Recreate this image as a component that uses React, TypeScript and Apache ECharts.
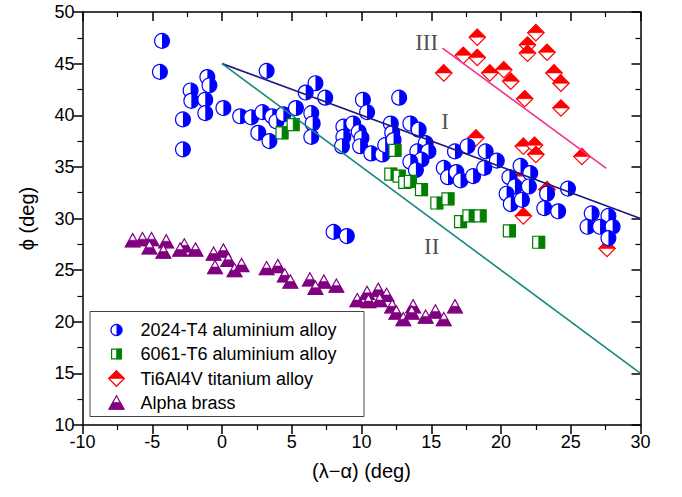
import { useEffect, useRef } from "react";
import * as echarts from "echarts";

// Axis ranges and tick step
const X_RANGE = [-10, 30];
const Y_RANGE = [10, 50];
const TICK_STEP = 5;

const X_TITLE = "(λ−α) (deg)";
const Y_TITLE = "ϕ (deg)";

const SERIES_NAMES = [
  "2024-T4 aluminium alloy",
  "6061-T6 aluminium alloy",
  "Ti6Al4V titanium alloy",
  "Alpha brass",
];

// [λ−α, ϕ] in degrees
const alloy2024T4 = [
  [-4.3, 47.2], [-4.45, 44.2], [-1.05, 43.7], [-0.9, 42.9], [-2.25, 42.4], [-2.2, 41.4],
  [-1.2, 41.5], [-1.2, 40.2], [0.1, 40.7], [-2.8, 39.6], [-2.8, 36.7], [1.3, 39.9],
  [2.1, 39.8], [3.2, 44.3], [2.9, 40.3], [2.6, 38.3], [3.4, 37.5], [3.6, 39.9], [3.9, 39.4],
  [4.4, 40.1], [5.3, 40.7], [6.4, 40.2], [6.5, 39.2], [6.4, 37.9], [6.7, 43.1], [6.0, 42.2],
  [7.4, 41.7], [8.7, 38.9], [8.7, 37.9], [8.6, 37.0], [9.4, 39.2], [9.8, 38.4],
  [10.1, 41.5], [10.4, 40.3], [12.7, 41.7], [10.0, 37.8], [9.9, 37.0], [10.7, 36.3],
  [11.5, 36.2], [11.7, 37.1], [12.1, 39.2], [12.2, 38.3], [12.3, 37.6], [13.5, 39.2],
  [14.1, 38.6], [14.6, 37.3], [14.0, 36.5], [14.8, 36.5], [14.3, 35.7], [13.5, 35.5],
  [13.9, 34.7], [15.9, 34.9], [16.2, 34.0], [16.8, 34.5], [17.1, 33.7], [18.0, 34.1],
  [16.7, 36.5], [17.6, 37.0], [18.9, 36.5], [19.7, 35.6], [18.8, 34.9], [21.4, 35.1],
  [22.1, 34.4], [20.6, 34.0], [21.0, 33.1], [22.0, 33.1], [20.4, 32.4], [20.7, 31.4],
  [21.5, 31.8], [23.3, 32.4], [23.1, 31.0], [24.1, 30.7], [24.8, 32.9], [26.5, 30.5],
  [27.7, 30.25], [26.2, 29.2], [27.1, 29.2], [28.0, 29.2], [27.7, 28.1],
  [8.0, 28.7], [8.95, 28.3],
];

const alloy6061T6 = [
  [4.3, 38.3], [5.1, 39.1], [12.4, 36.6], [12.1, 34.3], [12.7, 34.1], [13.1, 33.5],
  [13.5, 33.6], [14.3, 32.8], [15.4, 31.5], [16.2, 31.9], [17.1, 29.7], [17.7, 30.25],
  [18.5, 30.25], [20.6, 28.8], [22.7, 27.7],
];

const ti6Al4V = [
  [18.3, 47.55], [22.5, 48.0], [21.9, 46.8], [21.9, 46.0], [23.3, 46.1], [17.3, 45.8],
  [18.3, 45.6], [15.9, 44.1], [19.2, 44.1], [20.2, 44.4], [20.7, 43.3], [23.8, 44.1],
  [24.3, 43.1], [21.7, 41.6], [24.3, 40.7], [18.2, 37.8], [21.6, 37.0], [22.4, 37.1],
  [22.5, 36.2], [25.8, 36.0], [21.6, 34.1], [23.3, 32.8], [21.6, 30.25], [27.6, 27.1],
];

const alphaBrass = [
  [-6.4, 27.9], [-5.7, 28.0], [-5.05, 28.0], [-5.2, 27.2], [-4.0, 27.8], [-4.2, 26.8],
  [-2.7, 27.4], [-1.9, 27.0], [-3.0, 27.0], [-0.6, 26.6], [0.1, 26.9], [-0.5, 25.3],
  [0.45, 26.0], [0.9, 25.0], [1.4, 25.5], [3.2, 25.2], [4.0, 25.4], [4.5, 24.5],
  [4.9, 23.9], [6.3, 24.1], [7.3, 23.9], [6.7, 23.3], [8.2, 23.5], [9.7, 22.1],
  [10.4, 22.8], [11.2, 23.1], [11.8, 22.6], [10.5, 22.0], [11.3, 22.1], [12.2, 21.5],
  [12.5, 20.9], [13.0, 20.25], [13.7, 21.5], [13.6, 20.9], [14.6, 20.5], [15.3, 21.0],
  [15.9, 20.25], [16.7, 21.5],
];

// Reference lines I, II, III
const lineI = [[0, 45], [30, 30]];
const lineII = [[0, 45], [30, 15]];
const lineIII = [[15.8, 46.5], [27.55, 34.85]];

// Region labels [x, y, text]
const regionLabels = [
  [14.67, 47.03, "III"],
  [16.0, 39.4, "I"],
  [15.03, 27.3, "II"],
];

const SANS = "'Liberation Sans', Arial, Helvetica, sans-serif";
const SERIF = "'Liberation Serif', 'Times New Roman', serif";

type Kind = "circle" | "square" | "diamond" | "triangle";

const KINDS: Kind[] = ["circle", "square", "diamond", "triangle"];
const COLORS = ["#0000ff", "#008000", "#ff0000", "#800080"];

// Half-filled marker built from plain shapes
function markerParts(kind: Kind, cx: number, cy: number, color: string, k = 1): any[] {
  const lw = 1.2;
  const outline = { fill: "#ffffff", stroke: color, lineWidth: lw };
  const solid = { fill: color, stroke: color, lineWidth: 0.6 };
  if (kind === "circle") {
    const r = 7.4 * k;
    return [
      { type: "circle", shape: { cx, cy, r }, style: outline },
      {
        type: "sector",
        shape: { cx, cy, r0: 0, r, startAngle: -Math.PI / 2, endAngle: Math.PI / 2, clockwise: true },
        style: { fill: color },
      },
    ];
  }
  if (kind === "square") {
    const h = 6 * k;
    return [
      { type: "rect", shape: { x: cx - h, y: cy - h, width: 2 * h, height: 2 * h }, style: outline },
      { type: "rect", shape: { x: cx, y: cy - h, width: h, height: 2 * h }, style: solid },
    ];
  }
  if (kind === "diamond") {
    const h = 8.2 * k;
    return [
      {
        type: "polygon",
        shape: { points: [[cx, cy - h], [cx + h, cy], [cx, cy + h], [cx - h, cy]] },
        style: outline,
      },
      {
        type: "polygon",
        shape: { points: [[cx, cy - h], [cx + h, cy], [cx - h, cy]] },
        style: solid,
      },
    ];
  }
  const w = 7.4 * k;
  const h = 6.6 * k;
  return [
    {
      type: "polygon",
      shape: { points: [[cx, cy - h], [cx + w, cy + h], [cx - w, cy + h]] },
      style: outline,
    },
    {
      type: "polygon",
      shape: { points: [[cx - w / 2, cy], [cx + w / 2, cy], [cx + w, cy + h], [cx - w, cy + h]] },
      style: solid,
    },
  ];
}

function markerSeries(name: string, data: number[][], kind: Kind, color: string, z: number) {
  return {
    type: "custom",
    name,
    data,
    z,
    encode: { x: 0, y: 1 },
    renderItem: (_params: any, api: any) => {
      const p = api.coord([api.value(0), api.value(1)]);
      return { type: "group", children: markerParts(kind, p[0], p[1], color) };
    },
  };
}

function lineSeries(data: number[][], color: string) {
  return {
    type: "line",
    data,
    z: 10,
    showSymbol: false,
    symbol: "none",
    silent: true,
    lineStyle: { color, width: 1.6 },
  };
}

function axisBase(min: number, max: number) {
  return {
    type: "value",
    min,
    max,
    interval: TICK_STEP,
    splitLine: { show: false },
    minorSplitLine: { show: false },
    axisLine: { show: true, onZero: false, lineStyle: { color: "#000", width: 1.5 } },
    axisTick: { show: true, length: 9, lineStyle: { color: "#000", width: 1.5 } },
    minorTick: { show: true, splitNumber: 2, length: 5, lineStyle: { color: "#000", width: 1.2 } },
  };
}

function buildLegend() {
  const box = { left: 90, top: 311.5, width: 274, height: 105 };
  const rows = [330, 354, 378.5, 402.5];
  const iconX = 116.5;
  const textX = 140.5;
  const scale = [0.75, 0.82, 0.95, 1.02];
  const items: any[] = [
    {
      type: "rect",
      shape: { x: box.left, y: box.top, width: box.width, height: box.height },
      style: { fill: "#ffffff", stroke: "#444", lineWidth: 1 },
      z: 100,
    },
  ];
  SERIES_NAMES.forEach((name, i) => {
    markerParts(KINDS[i], iconX, rows[i], COLORS[i], scale[i]).forEach((el) =>
      items.push({ ...el, z: 101 })
    );
    items.push({
      type: "text",
      x: textX,
      y: rows[i],
      z: 101,
      style: {
        text: name,
        fill: "#000",
        fontSize: 18,
        fontFamily: SANS,
        verticalAlign: "middle",
        align: "left",
      },
    });
  });
  return items;
}

export default function App() {
  const ref = useRef<HTMLDivElement>(null);

  useEffect(() => {
    if (!ref.current) return;
    const chart = echarts.init(ref.current, undefined, { renderer: "svg" });

    const bottomX = {
      ...axisBase(X_RANGE[0], X_RANGE[1]),
      position: "bottom",
      axisLabel: { color: "#000", fontSize: 18, fontFamily: SANS, margin: 8 },
      name: X_TITLE,
      nameLocation: "middle",
      nameGap: 36,
      nameTextStyle: { color: "#000", fontSize: 20, fontFamily: SANS },
    };
    const topX = {
      ...axisBase(X_RANGE[0], X_RANGE[1]),
      position: "top",
      axisTick: { show: true, inside: true, length: 9, lineStyle: { color: "#000", width: 1.5 } },
      axisLabel: { show: false },
    };
    const leftY = {
      ...axisBase(Y_RANGE[0], Y_RANGE[1]),
      position: "left",
      axisLabel: { color: "#000", fontSize: 18, fontFamily: SANS, margin: 8 },
      name: Y_TITLE,
      nameLocation: "middle",
      nameGap: 46,
      nameRotate: 90,
      nameTextStyle: { color: "#000", fontSize: 20, fontFamily: SANS },
    };
    const rightY = {
      ...axisBase(Y_RANGE[0], Y_RANGE[1]),
      position: "right",
      axisTick: { show: true, inside: true, length: 9, lineStyle: { color: "#000", width: 1.5 } },
      axisLabel: { show: false },
    };

    chart.setOption({
      animation: false,
      backgroundColor: "#ffffff",
      grid: { left: 82.5, right: 41.5, top: 12, bottom: 72, containLabel: false },
      xAxis: [bottomX, topX],
      yAxis: [leftY, rightY],
      series: [
        markerSeries(SERIES_NAMES[3], alphaBrass, "triangle", COLORS[3], 2),
        markerSeries(SERIES_NAMES[2], ti6Al4V, "diamond", COLORS[2], 3),
        markerSeries(SERIES_NAMES[0], alloy2024T4, "circle", COLORS[0], 4),
        markerSeries(SERIES_NAMES[1], alloy6061T6, "square", COLORS[1], 5),
        lineSeries(lineI, "#1a1a80"),
        lineSeries(lineII, "#17877f"),
        lineSeries(lineIII, "#f0338f"),
        {
          type: "scatter",
          data: regionLabels,
          symbolSize: 0,
          silent: true,
          z: 11,
          label: {
            show: true,
            position: "inside",
            formatter: (p: any) => p.data[2],
            fontFamily: SERIF,
            fontSize: 23,
            color: "#222",
          },
        },
      ],
      graphic: buildLegend(),
    });

    return () => chart.dispose();
  }, []);

  return (
    <div
      ref={ref}
      style={{ position: "absolute", left: 0, top: 0, width: 682, height: 497 }}
    />
  );
}
